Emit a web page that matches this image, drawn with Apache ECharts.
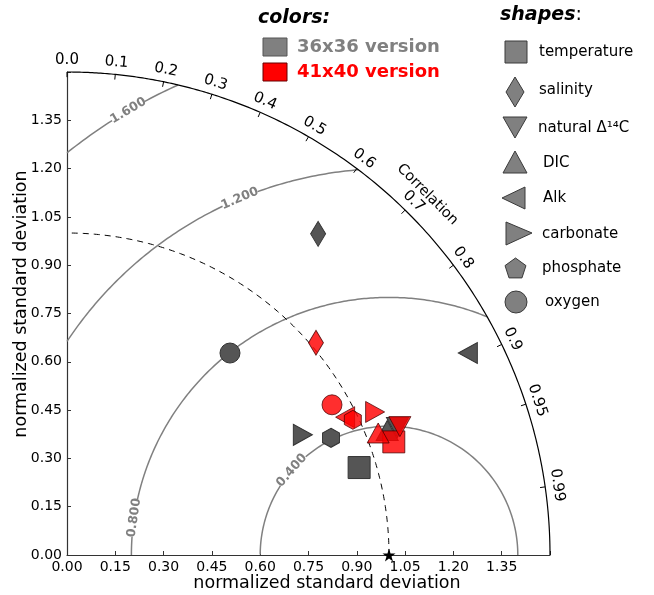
<!DOCTYPE html>
<html>
<head>
<meta charset="utf-8">
<script src="https://cdn.jsdelivr.net/npm/echarts@6/dist/echarts.min.js"></script>
<style>
  html, body { margin: 0; padding: 0; background: #fff; }
  #chart { width: 654px; height: 595px; }
</style>
</head>
<body>
<div id="chart"></div>
<script>
// Taylor diagram: normalized standard deviation vs. correlation for two model grids
const fields = ['temperature', 'salinity', 'natural Δ¹⁴C', 'DIC', 'Alk', 'carbonate', 'phosphate', 'oxygen'];

// 36x36 version
const std36  = [0.947, 1.266, 1.100, 1.067, 1.394, 0.822, 0.897, 0.806];
const corr36 = [0.958, 0.616, 0.933, 0.932, 0.893, 0.891, 0.914, 0.628];

// 41x40 version
const std41  = [1.074, 1.016, 1.108, 1.038, 0.964, 1.055, 0.982, 0.946];
const corr41 = [0.945, 0.761, 0.933, 0.931, 0.896, 0.907, 0.904, 0.870];

const refStd = 1.0;
const stdMax = 1.5;
const stdTicks = [0, 0.15, 0.30, 0.45, 0.60, 0.75, 0.90, 1.05, 1.20, 1.35];
const corrTicks = [0.0, 0.1, 0.2, 0.3, 0.4, 0.5, 0.6, 0.7, 0.8, 0.9, 0.95, 0.99];
const corrTickLabels = ['0.0', '0.1', '0.2', '0.3', '0.4', '0.5', '0.6', '0.7', '0.8', '0.9', '0.95', '0.99'];
const rmsLevels = [0.4, 0.8, 1.2, 1.6];
const rmsLabels = ['0.400', '0.800', '1.200', '1.600'];
const rmsLabelAngles = [139, 171.7, 112.7, 120.4];   // degrees around the reference point

const FONT = 'DejaVu Sans';
const GRID = { left: 67, top: 72, width: 483, height: 483 };

const deg = Math.PI / 180;
const toXY = (s, c) => [s * c, s * Math.sqrt(Math.max(0, 1 - c * c))];

// marker shapes, one per field
const HEX = 'path://M0,-1 L0.866,-0.5 L0.866,0.5 L0,1 L-0.866,0.5 L-0.866,-0.5 Z';
const shapeSym = [
  { symbol: 'rect', symbolSize: 22, symbolRotate: 0 },
  { symbol: 'diamond', symbolSize: [15, 25], symbolRotate: 0 },
  { symbol: 'triangle', symbolSize: [22, 20], symbolRotate: 180 },
  { symbol: 'triangle', symbolSize: [22, 20], symbolRotate: 0 },
  { symbol: 'triangle', symbolSize: [21, 19], symbolRotate: 90 },
  { symbol: 'triangle', symbolSize: [21, 19], symbolRotate: -90 },
  { symbol: HEX, symbolSize: [17, 19], symbolRotate: 0 },
  { symbol: 'circle', symbolSize: 20, symbolRotate: 0 }
];

function pointsFor(stds, corrs) {
  return fields.map((f, i) => Object.assign({ name: f, value: toXY(stds[i], corrs[i]) }, shapeSym[i]));
}

// circular arc around the origin
function originArc(r, n) {
  const pts = [];
  for (let k = 0; k <= n; k++) {
    const a = (90 * k / n) * deg;
    pts.push([r * Math.cos(a), r * Math.sin(a)]);
  }
  return pts;
}

// centred RMS difference contour, clipped to the quarter disc and split round its label
function rmsSegments(r, labelDeg) {
  let a0 = 0, a1 = 180;
  const xi = (stdMax * stdMax - r * r + refStd * refStd) / (2 * refStd);
  if (xi < stdMax) {
    const yi = Math.sqrt(stdMax * stdMax - xi * xi);
    a0 = Math.atan2(yi, xi - refStd) / deg;
  }
  if (r > refStd) a1 = Math.acos(-refStd / r) / deg;
  const gap = (19 / (r * 322)) / deg;
  const pieces = [[a0, labelDeg - gap], [labelDeg + gap, a1]];
  return pieces.map(([s, e]) => {
    const pts = [];
    const n = Math.max(2, Math.ceil((e - s) / 0.25));
    for (let k = 0; k <= n; k++) {
      const a = (s + (e - s) * k / n) * deg;
      pts.push([refStd + r * Math.cos(a), r * Math.sin(a)]);
    }
    return pts;
  });
}

const lineBase = { type: 'line', showSymbol: false, symbol: 'none', silent: true, animation: false, clip: false };

const series = [];

// outer boundary arc
series.push(Object.assign({}, lineBase, {
  data: originArc(stdMax, 360), lineStyle: { color: '#000', width: 1.2 }, z: 3
}));

// reference standard deviation arc
series.push(Object.assign({}, lineBase, {
  data: originArc(refStd, 240), lineStyle: { color: '#000', width: 1, type: [6, 5] }, z: 3
}));

// RMS contours
rmsLevels.forEach((r, i) => {
  rmsSegments(r, rmsLabelAngles[i]).forEach(seg => {
    series.push(Object.assign({}, lineBase, {
      data: seg, lineStyle: { color: '#808080', width: 1.5 }, z: 2
    }));
  });
});

// RMS contour labels
series.push({
  type: 'custom', coordinateSystem: 'cartesian2d', clip: false, silent: true, animation: false, z: 4,
  data: rmsLevels.map((r, i) => [refStd + r * Math.cos(rmsLabelAngles[i] * deg), r * Math.sin(rmsLabelAngles[i] * deg)]),
  renderItem: (params, api) => {
    const i = params.dataIndex;
    const p = api.coord([api.value(0), api.value(1)]);
    return {
      type: 'text', x: p[0], y: p[1], rotation: (rmsLabelAngles[i] - 90) * deg,
      style: {
        text: rmsLabels[i], fill: '#808080',
        font: 'bold 12.5px "DejaVu Sans"', align: 'center', verticalAlign: 'middle'
      }
    };
  }
});

// correlation ticks and labels on the outer arc
series.push({
  type: 'custom', coordinateSystem: 'cartesian2d', clip: false, silent: true, animation: false, z: 4,
  data: corrTicks.map(c => toXY(stdMax, c)),
  renderItem: (params, api) => {
    const i = params.dataIndex;
    const c = corrTicks[i];
    const th = Math.acos(c);
    const p1 = api.coord(toXY(stdMax, c));
    const p2 = api.coord(toXY(stdMax - 0.016, c));
    const pl = api.coord(toXY(stdMax + 0.038, c));
    return {
      type: 'group',
      children: [
        { type: 'line', shape: { x1: p1[0], y1: p1[1], x2: p2[0], y2: p2[1] }, style: { stroke: '#000', lineWidth: 1 } },
        {
          type: 'text', x: pl[0], y: pl[1], rotation: th - Math.PI / 2,
          style: {
            text: corrTickLabels[i], fill: '#000', font: '15px "DejaVu Sans"',
            align: 'center', verticalAlign: 'middle'
          }
        }
      ]
    };
  }
});

// "Correlation" title along the arc
series.push({
  type: 'custom', coordinateSystem: 'cartesian2d', clip: false, silent: true, animation: false, z: 4,
  data: [toXY(stdMax + 0.083, Math.SQRT1_2)],
  renderItem: (params, api) => {
    const p = api.coord([api.value(0), api.value(1)]);
    return {
      type: 'text', x: p[0], y: p[1], rotation: -Math.PI / 4,
      style: { text: 'Correlation', fill: '#000', font: '14.5px "DejaVu Sans"', align: 'center', verticalAlign: 'middle' }
    };
  }
});

// reference point
series.push({
  type: 'scatter', clip: false, silent: true, animation: false, z: 6,
  symbol: 'path://M0,-1 L0.2245,-0.309 L0.951,-0.309 L0.363,0.118 L0.588,0.809 L0,0.382 L-0.588,0.809 L-0.363,0.118 L-0.951,-0.309 L-0.2245,-0.309 Z',
  symbolSize: 13, itemStyle: { color: '#000', opacity: 1 },
  data: [[refStd, 0]]
});

// model results
series.push({
  type: 'scatter', name: '36x36 version', clip: false, animation: false, z: 5,
  itemStyle: { color: '#555555', borderColor: '#333333', borderWidth: 1, opacity: 1 },
  data: pointsFor(std36, corr36)
});
series.push({
  type: 'scatter', name: '41x40 version', clip: false, animation: false, z: 6,
  itemStyle: { color: '#ff0000', borderColor: '#440000', borderWidth: 0.9, opacity: 0.82 },
  data: pointsFor(std41, corr41)
});

// legend drawn as graphics
const legendShapes = [
  { type: 'rect', shape: { x: 505, y: 41, width: 22, height: 22 } },
  { type: 'polygon', shape: { points: [[515, 77], [524, 92], [515, 107], [506, 92]] } },
  { type: 'polygon', shape: { points: [[503, 117], [527, 117], [515, 138]] } },
  { type: 'polygon', shape: { points: [[515, 151], [527, 173], [503, 173]] } },
  { type: 'polygon', shape: { points: [[502, 198], [525, 187], [525, 209]] } },
  { type: 'polygon', shape: { points: [[506, 222], [532, 233], [506, 245]] } },
  { type: 'polygon', shape: { points: [0, 1, 2, 3, 4].map(k => [515.5 + 11 * Math.cos((-90 + 72 * k) * deg), 269 + 11 * Math.sin((-90 + 72 * k) * deg)]) } },
  { type: 'circle', shape: { cx: 516, cy: 302, r: 11 } }
];
const legendTextX = [539, 539, 538, 543, 543, 542, 542, 545];
const legendTextY = [52, 90, 128, 163, 198, 234, 268, 302];

const graphics = [];
legendShapes.forEach(g => {
  graphics.push(Object.assign({}, g, { style: { fill: '#808080', stroke: '#3a3a3a', lineWidth: 1 } }));
});
fields.forEach((f, i) => {
  graphics.push({
    type: 'text', x: legendTextX[i], y: legendTextY[i],
    style: { text: f, fill: '#000', font: '15px "DejaVu Sans"', align: 'left', verticalAlign: 'middle' }
  });
});
graphics.push({
  type: 'text', x: 500, y: 15,
  style: {
    text: '{b|shapes}:', fill: '#000', fontFamily: FONT, fontSize: 19, verticalAlign: 'middle',
    rich: { b: { fontFamily: FONT, fontSize: 19, fontWeight: 'bold', fontStyle: 'italic', fill: '#000' } }
  }
});
graphics.push({
  type: 'text', x: 258, y: 18,
  style: { text: 'colors:', fill: '#000', font: 'italic bold 19px "DejaVu Sans"', verticalAlign: 'middle' }
});
graphics.push({ type: 'rect', shape: { x: 263, y: 38, width: 24, height: 18 }, style: { fill: '#808080', stroke: '#555', lineWidth: 1 } });
graphics.push({ type: 'rect', shape: { x: 263, y: 63, width: 24, height: 18 }, style: { fill: '#ff0000', stroke: '#660000', lineWidth: 1 } });
graphics.push({
  type: 'text', x: 297, y: 47,
  style: { text: '36x36 version', fill: '#808080', font: 'bold 18px "DejaVu Sans"', verticalAlign: 'middle' }
});
graphics.push({
  type: 'text', x: 297, y: 72,
  style: { text: '41x40 version', fill: '#ff0000', font: 'bold 18px "DejaVu Sans"', verticalAlign: 'middle' }
});
// axis titles
graphics.push({
  type: 'text', x: 327, y: 583,
  style: { text: 'normalized standard deviation', fill: '#000', font: '17.5px "DejaVu Sans"', align: 'center', verticalAlign: 'middle' }
});
graphics.push({
  type: 'text', x: 21, y: 304, rotation: Math.PI / 2,
  style: { text: 'normalized standard deviation', fill: '#000', font: '17.5px "DejaVu Sans"', align: 'center', verticalAlign: 'middle' }
});

const tickFmt = v => {
  const hit = stdTicks.find(t => Math.abs(t - v) < 1e-6);
  return hit === undefined ? '' : hit.toFixed(2);
};

const axisCommon = {
  type: 'value', min: 0, max: stdMax, interval: 0.15,
  axisLine: { show: true, onZero: false, lineStyle: { color: '#333', width: 1.2 } },
  axisTick: { show: true, inside: true, length: 4, lineStyle: { color: '#333' } },
  axisLabel: { formatter: tickFmt, color: '#000', fontFamily: FONT, fontSize: 14, showMaxLabel: true, margin: 5 },
  splitLine: { show: false }
};

const option = {
  backgroundColor: '#fff',
  animation: false,
  grid: Object.assign({ containLabel: false, outerBoundsMode: 'none' }, GRID),
  xAxis: Object.assign({}, axisCommon),
  yAxis: Object.assign({}, axisCommon),
  graphic: graphics,
  series: series
};

const chart = echarts.init(document.getElementById('chart'));
chart.setOption(option);
</script>
</body>
</html>
